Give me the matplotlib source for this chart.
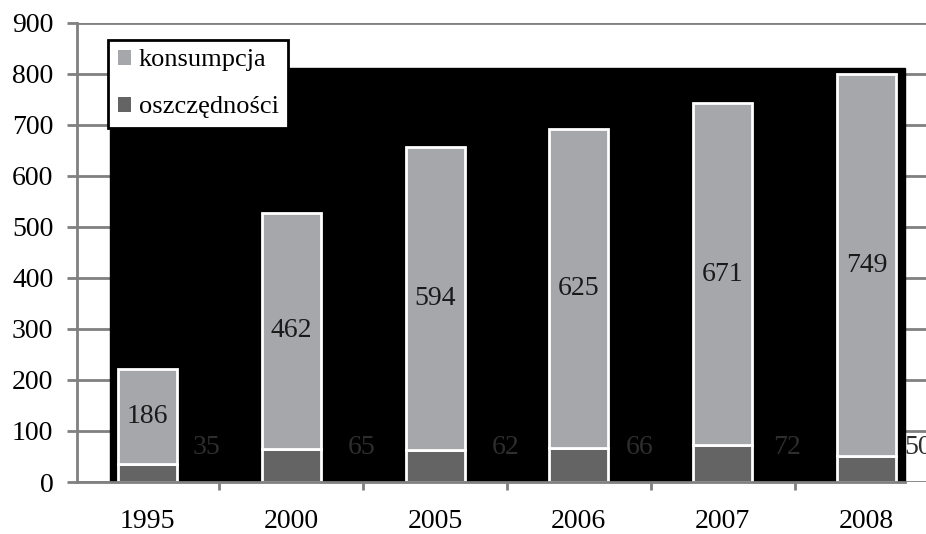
import matplotlib.pyplot as plt
from matplotlib.patches import Rectangle

# dane: lata, oszczednosci i konsumpcja
years = ["1995", "2000", "2005", "2006", "2007", "2008"]
savings = [35, 65, 62, 66, 72, 50]
consumption = [186, 462, 594, 625, 671, 749]
yticks = [0, 100, 200, 300, 400, 500, 600, 700, 800, 900]

# przesuniecie etykiet oszczednosci w prawo od slupka
label_shift = [0.41, 0.49, 0.49, 0.42, 0.45, 0.36]

plt.rcParams['font.family'] = ['Liberation Serif', 'DejaVu Serif']

fig = plt.figure(figsize=(9.26, 5.34), dpi=100)
ax = fig.add_axes([77 / 926, 52 / 534, (926 - 77) / 926, (482 - 22.7) / 534])

x = list(range(len(years)))
ax.set_xlim(-0.49, -0.49 + (926 - 77) / 143.8)
ax.set_ylim(0, 900)

# siatka pod czarnym tlem
for v in yticks:
    ax.axhline(v, color='#808080', lw=2, zorder=0)
ax.add_patch(Rectangle((-0.26, 0), 5.53, 811, color='black', zorder=1))

ax.bar(x, savings, width=0.41, color='#646464', edgecolor='white', lw=2, zorder=2,
       label='oszczędności')
ax.bar(x, consumption, width=0.41, bottom=savings, color='#a6a7ab', edgecolor='white',
       lw=2, zorder=2, label='konsumpcja')

for i in x:
    ax.text(i, savings[i] + consumption[i] / 2, str(consumption[i]), ha='center',
            va='center', fontsize=20, color='#1a1a1a', zorder=3)
    ax.text(i + label_shift[i], 67, str(savings[i]), ha='center', va='center',
            fontsize=20, color='#2e2e2e', zorder=3, clip_on=False)

# osie
for s in ['top', 'right']:
    ax.spines[s].set_visible(False)
ax.spines['left'].set_color('#808080')
ax.spines['left'].set_linewidth(2)
ax.spines['bottom'].set_color('#808080')
ax.spines['bottom'].set_linewidth(2)
ax.spines['bottom'].set_bounds(-0.49, 5.27)
ax.spines['left'].set_zorder(4)
ax.spines['bottom'].set_zorder(4)

ax.set_yticks(yticks)
ax.tick_params(axis='y', length=7, width=2, color='#808080', labelsize=20, pad=10)
ax.set_xticks([i + 0.5 for i in x[:-1]])
ax.set_xticklabels([])
ax.tick_params(axis='x', length=6, width=2, color='#808080')
for i in x:
    ax.text(i, -78, years[i], ha='center', va='center', fontsize=20, clip_on=False)

handles, labels = ax.get_legend_handles_labels()
leg = ax.legend(handles[::-1], labels[::-1], loc='upper left', bbox_to_anchor=(0.037, 0.962),
                fontsize=19, frameon=True, fancybox=False, framealpha=1,
                handlelength=0.5, handleheight=0.5, handletextpad=0.3,
                labelspacing=0.95, borderpad=0.35, borderaxespad=0)
leg.get_frame().set_edgecolor('black')
leg.get_frame().set_facecolor('white')
leg.get_frame().set_linewidth(2)
leg.set_zorder(5)
for h in leg.legend_handles:
    h.set_edgecolor('none')

fig.savefig('out.png', dpi=100)
